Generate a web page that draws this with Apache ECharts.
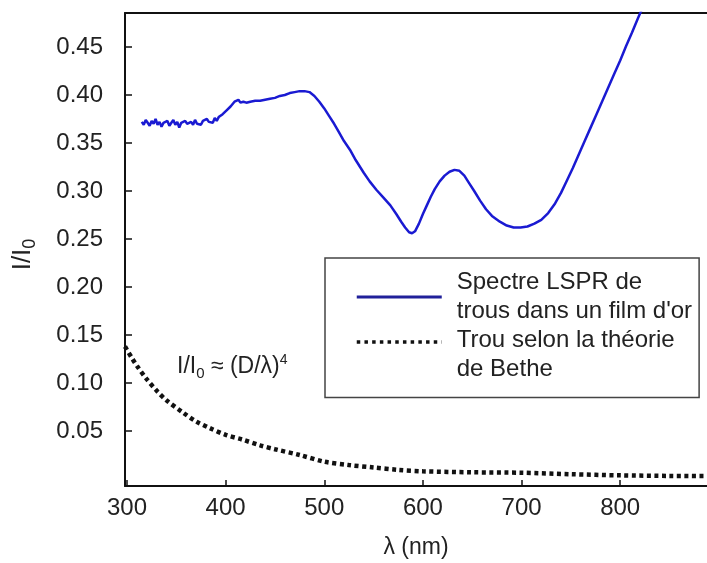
<!DOCTYPE html>
<html>
<head>
<meta charset="utf-8">
<script src="https://cdn.jsdelivr.net/npm/echarts@6/dist/echarts.min.js"></script>
<style>
html,body{margin:0;padding:0;background:#fff;}
#chart{width:707px;height:563px;}
</style>
</head>
<body>
<div id="chart"></div>
<script>
// ---- data ----
var lsprWavelength = [315,317,319,321,323,325,327,329,331,333,335,337,339,341,343,345,347,349,351,353,355,357,359,361,363,365,367,369,371,373,375,377,379,381,383,385,387,389,391,393,395,397,399,401,403,405,407,409,411,413,415,418,421,425,430,435,440,445,450,455,460,465,470,475,480,485,490,495,500,505,510,515,520,526,532,540,546,553,560,567,573,578,582,586,589,592,596,600,604,608,612,617,622,627,632,637,642,647,652,658,664,670,678,685,692,699,706,713,720,727,734,740,746,752,758,764,770,776,782,788,794,800,806,812,818,824];
var lsprValue = [0.372,0.369,0.374,0.371,0.368,0.373,0.370,0.375,0.369,0.372,0.367,0.371,0.369,0.373,0.368,0.371,0.374,0.369,0.372,0.366,0.371,0.369,0.373,0.370,0.368,0.372,0.369,0.374,0.370,0.372,0.369,0.373,0.371,0.375,0.372,0.374,0.371,0.376,0.373,0.377,0.375,0.380,0.378,0.384,0.382,0.388,0.390,0.393,0.391,0.395,0.392,0.393,0.392,0.393,0.394,0.394,0.395,0.396,0.397,0.399,0.400,0.402,0.403,0.404,0.404,0.403,0.399,0.393,0.386,0.378,0.370,0.361,0.352,0.343,0.332,0.319,0.310,0.301,0.293,0.285,0.276,0.268,0.262,0.257,0.256,0.258,0.266,0.276,0.285,0.294,0.302,0.310,0.316,0.320,0.322,0.321,0.316,0.308,0.300,0.290,0.281,0.274,0.268,0.264,0.262,0.262,0.263,0.266,0.270,0.277,0.287,0.298,0.311,0.324,0.338,0.352,0.366,0.380,0.394,0.408,0.422,0.436,0.451,0.465,0.480,0.494];

var betheWavelength = [298,305,310,320,331,340,357,370,384,400,417,435,450,475,500,525,550,575,600,650,700,750,800,850,888];
var betheValue = [0.138,0.126,0.118,0.104,0.091,0.082,0.069,0.060,0.053,0.046,0.041,0.035,0.031,0.025,0.018,0.0145,0.012,0.0095,0.008,0.007,0.0065,0.005,0.0038,0.0032,0.003];

var xTickValues = [300,400,500,600,700,800];
var yTickValues = [0.05,0.10,0.15,0.20,0.25,0.30,0.35,0.40,0.45];

var seriesNames = ["Spectre LSPR de\ntrous dans un film d'or", "Trou selon la th\u00e9orie\nde Bethe"];

function pairs(xs, ys){ var out=[]; for(var i=0;i<xs.length;i++){ out.push([xs[i], ys[i]]); } return out; }

var FONT = "'Liberation Sans', Arial, sans-serif";
var chart = echarts.init(document.getElementById('chart'), null, {renderer:'canvas'});

chart.setOption({
  backgroundColor: '#ffffff',
  animation: false,
  textStyle: {fontFamily: FONT},
  grid: {left: 125, right: 0, top: 13, bottom: 77, containLabel: false, outerBoundsMode: 'none'},
  legend: {
    orient: 'vertical',
    left: 325, top: 258,
    padding: [10, 7, 14, 30],
    itemWidth: 85, itemHeight: 20,
    itemGap: -25.5,
    borderColor: '#444', borderWidth: 1.5,
    backgroundColor: '#ffffff',
    itemStyle: {color: 'rgba(0,0,0,0)', borderColor: 'rgba(0,0,0,0)', borderWidth: 0},
    formatter: function(name){
      return name === seriesNames[1] ? '{sp| }\n' + name : name;
    },
    textStyle: {fontSize: 24, lineHeight: 29, color: '#222', fontFamily: FONT, padding: [0,0,0,10],
      rich: {sp: {fontSize: 10, lineHeight: 25}}},
    data: [
      {name: seriesNames[0], lineStyle: {color: '#20209a', width: 3}},
      {name: seriesNames[1], lineStyle: {color: '#111', width: 3.5, type: [3.5, 4.2]}}
    ]
  },
  xAxis: [{
    type: 'value', min: 298, max: 888, position: 'bottom',
    axisLine: {show: true, onZero: false, lineStyle: {color: '#111', width: 2}},
    axisTick: {show: true, inside: true, length: 6, customValues: xTickValues, lineStyle: {color: '#111', width: 1.5}},
    axisLabel: {customValues: xTickValues, fontSize: 24, color: '#222', margin: 10, fontFamily: FONT},
    splitLine: {show: false},
    name: '\u03bb (nm)', nameLocation: 'middle', nameGap: 50,
    nameTextStyle: {fontSize: 23, color: '#222', fontFamily: FONT}
  }, {
    type: 'value', min: 298, max: 888, position: 'top',
    axisLine: {show: true, onZero: false, lineStyle: {color: '#111', width: 2}},
    axisTick: {show: false}, axisLabel: {show: false}, splitLine: {show: false}
  }],
  yAxis: {
    type: 'value', min: -0.0073, max: 0.4854,
    axisLine: {show: true, onZero: false, lineStyle: {color: '#111', width: 2}},
    axisTick: {show: true, inside: true, length: 7, customValues: yTickValues, lineStyle: {color: '#111', width: 1.5}},
    axisLabel: {customValues: yTickValues, fontSize: 24, color: '#222', margin: 22, fontFamily: FONT,
      formatter: function(v){ return v.toFixed(2); }},
    splitLine: {show: false},
    name: '{a|I/I}{s|0}', nameLocation: 'middle', nameGap: 86, nameRotate: 90,
    nameTextStyle: {color: '#222', padding: [0, 10, 0, 0], rich: {
      a: {fontSize: 26, lineHeight: 32, color: '#222', fontFamily: FONT, verticalAlign: 'middle'},
      s: {fontSize: 18, lineHeight: 18, color: '#222', fontFamily: FONT, verticalAlign: 'bottom'}
    }}
  },
  graphic: [{
    type: 'text', left: 177, top: 353, silent: true,
    style: {
      text: '{a|I/I}{s|0}{a| \u2248 (D/\u03bb)}{p|4}',
      rich: {
        a: {fontSize: 23, lineHeight: 28, fill: '#222', fontFamily: FONT, verticalAlign: 'middle'},
        s: {fontSize: 15, lineHeight: 15, fill: '#222', fontFamily: FONT, verticalAlign: 'bottom'},
        p: {fontSize: 14, lineHeight: 14, fill: '#222', fontFamily: FONT, verticalAlign: 'top'}
      }
    }
  }],
  series: [{
    name: seriesNames[0], type: 'line', xAxisIndex: 0,
    data: pairs(lsprWavelength, lsprValue),
    showSymbol: false, symbol: 'none', clip: true, smooth: false,
    lineStyle: {color: '#1a1ad2', width: 2.5},
    itemStyle: {color: '#20209a'}
  }, {
    name: seriesNames[1], type: 'line', xAxisIndex: 0,
    data: pairs(betheWavelength, betheValue),
    showSymbol: false, symbol: 'none', clip: true, smooth: 0.3,
    lineStyle: {color: '#111', width: 4.5, type: [4, 3.5], cap: 'butt'},
    itemStyle: {color: '#111'}
  }]
});
</script>
</body>
</html>
